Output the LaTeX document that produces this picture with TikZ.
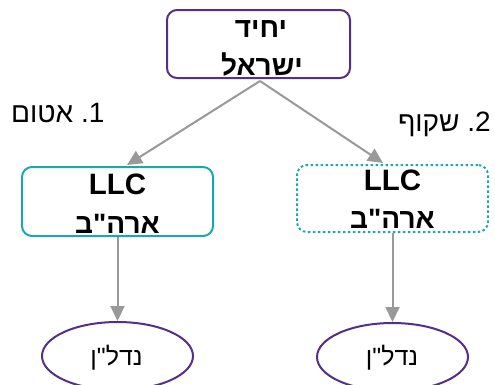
\documentclass[tikz,border=0pt]{standalone}
\usepackage{fontspec}
\setmainfont{Liberation Sans}
\newfontfamily\heb[Script=Hebrew]{Liberation Sans}
\TeXXeTstate=1
\usetikzlibrary{arrows.meta,calc,shapes.geometric}
\definecolor{purp}{RGB}{84,46,136}
\definecolor{teal2}{RGB}{26,166,178}
\definecolor{arrgray}{RGB}{153,153,153}
\tikzset{
  boxbase/.style={rectangle,rounded corners=10pt,line width=2pt,inner sep=0pt},
  topbox/.style={boxbase,draw=purp,minimum width=183pt,minimum height=68pt},
  solidbox/.style={boxbase,draw=teal2,minimum width=191pt,minimum height=69pt},
  dotbox/.style={boxbase,draw=teal2,minimum width=191pt,minimum height=67pt,
    dash pattern=on 2.5pt off 2.5pt},
  ell/.style={ellipse,draw=purp,line width=2pt,minimum width=151pt,minimum height=68pt,inner sep=0pt},
  boxtext/.style={anchor=base,inner sep=0pt,font=\heb\fontsize{28}{28}\selectfont\bfseries},
  llctext/.style={anchor=base,inner sep=0pt,font=\fontsize{29.5}{29.5}\selectfont\bfseries},
  lbltext/.style={anchor=base,inner sep=0pt,font=\heb\fontsize{28}{28}\selectfont},
  elltext/.style={anchor=base,inner sep=0pt,font=\heb\fontsize{25}{25}\selectfont},
  conn/.style={draw=arrgray,line width=2pt,-{Triangle[length=15pt,width=14pt]},fill=arrgray}
}
\begin{document}
\begin{tikzpicture}[x=1pt,y=-1pt]
\useasboundingbox (0,0) rectangle (495,384);
% boxes
\node[topbox] (top) at (258.5,44) {};
\node[solidbox] (lbox) at (117.5,201.5) {};
\node[dotbox] (rbox) at (392.5,198.5) {};
\node[ell] (lell) at (117.5,356) {};
\node[ell] (rell) at (392.5,357) {};
% texts
\node[boxtext] (t1) at (261,37) {יחיד};
\node[boxtext] (t2) at (262,75) {ישראל};
\node[llctext] (l1) at (117.5,194) {LLC};
\node[boxtext] (l2) at (117.5,233) {ארה"ב};
\node[llctext] (r1) at (392.5,190) {LLC};
\node[boxtext] (r2) at (392.5,228) {ארה"ב};
\node[elltext] (e1) at (116.5,365) {נדל"ן};
\node[elltext] (e2) at (392,365) {נדל"ן};
\node[lbltext,anchor=base west] (lab1) at (11,122) {\beginR{\rmfamily\beginL.1\endL{}} אטום\endR};
\node[lbltext,anchor=base east] (lab2) at (491,131) {\beginR{\rmfamily\beginL.2\endL{}} שקוף\endR};
% connectors
\coordinate (tstart) at ($(top.south)+(1.5,2)$);
\coordinate (lend) at ($(lbox.north)+(9.5,-1)$);
\coordinate (rend) at ($(rbox.north)+(-9.5,-1)$);
\draw[conn] (tstart) -- (lend);
\draw[conn] (tstart) -- (rend);
\draw[conn] (lbox.south) -- (lell.north);
\draw[conn] (rbox.south) -- (rell.north);
\end{tikzpicture}
\end{document}
